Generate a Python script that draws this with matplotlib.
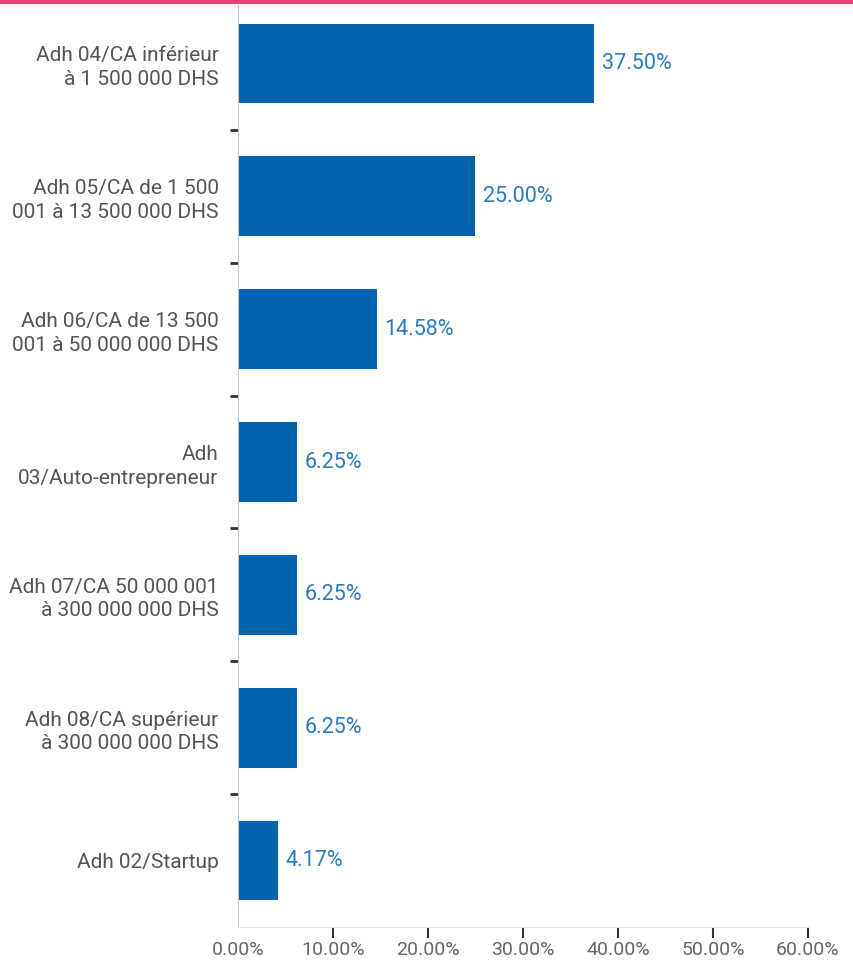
import matplotlib.pyplot as plt
from matplotlib.ticker import FixedLocator, PercentFormatter

labels = [
    "Adh 04/CA inférieur\nà 1 500 000 DHS",
    "Adh 05/CA de 1 500\n001 à 13 500 000 DHS",
    "Adh 06/CA de 13 500\n001 à 50 000 000 DHS",
    "Adh\n03/Auto-entrepreneur",
    "Adh 07/CA 50 000 001\nà 300 000 000 DHS",
    "Adh 08/CA supérieur\nà 300 000 000 DHS",
    "Adh 02/Startup",
]
values = [37.50, 25.00, 14.58, 6.25, 6.25, 6.25, 4.17]
xticks = [0, 10, 20, 30, 40, 50, 60]

plt.rcParams['font.family'] = ['Roboto', 'DejaVu Sans']

fig = plt.figure(figsize=(8.54, 9.65), dpi=100)
ax = fig.add_axes([238/854, 1 - 927/965, (808 - 238)/854, (927 - 5)/965])

n = len(values)
ypos = [n - 1 - i for i in range(n)]
ax.barh(ypos, values, height=0.6, color='#0563ad')
for y, v in zip(ypos, values):
    ax.text(v + 0.8, y, f"{v:.2f}%", va='center', ha='left',
            fontsize=15.5, color='#2b7bbf')

ax.set_ylim(-0.5, n - 0.56)
ax.set_xlim(0, 60)
ax.set_yticks(ypos)
ax.set_yticklabels(labels, fontsize=15, color='#555555', linespacing=1.3)
ax.tick_params(axis='y', which='major', length=0, pad=14)
ax.yaxis.set_minor_locator(FixedLocator([i + 0.5 for i in range(n - 1)]))
ax.tick_params(axis='y', which='minor', length=6, width=2, color='#333333')

ax.set_xticks(xticks)
ax.xaxis.set_major_formatter(PercentFormatter(decimals=2))
ax.tick_params(axis='x', length=8, width=1.5, color='#333333', pad=2,
               labelsize=14, labelcolor='#666666')
ax.xaxis.get_major_ticks()[0].tick1line.set_visible(False)

for s in ['top', 'right']:
    ax.spines[s].set_visible(False)
ax.spines['left'].set_color('#c8c8c8')
ax.spines['bottom'].set_color('#dddddd')

fig.add_artist(plt.Line2D([0, 1], [1 - 1.5/965, 1 - 1.5/965],
                          transform=fig.transFigure, color='#e0457b', lw=3))

fig.savefig('out.png', dpi=100)
